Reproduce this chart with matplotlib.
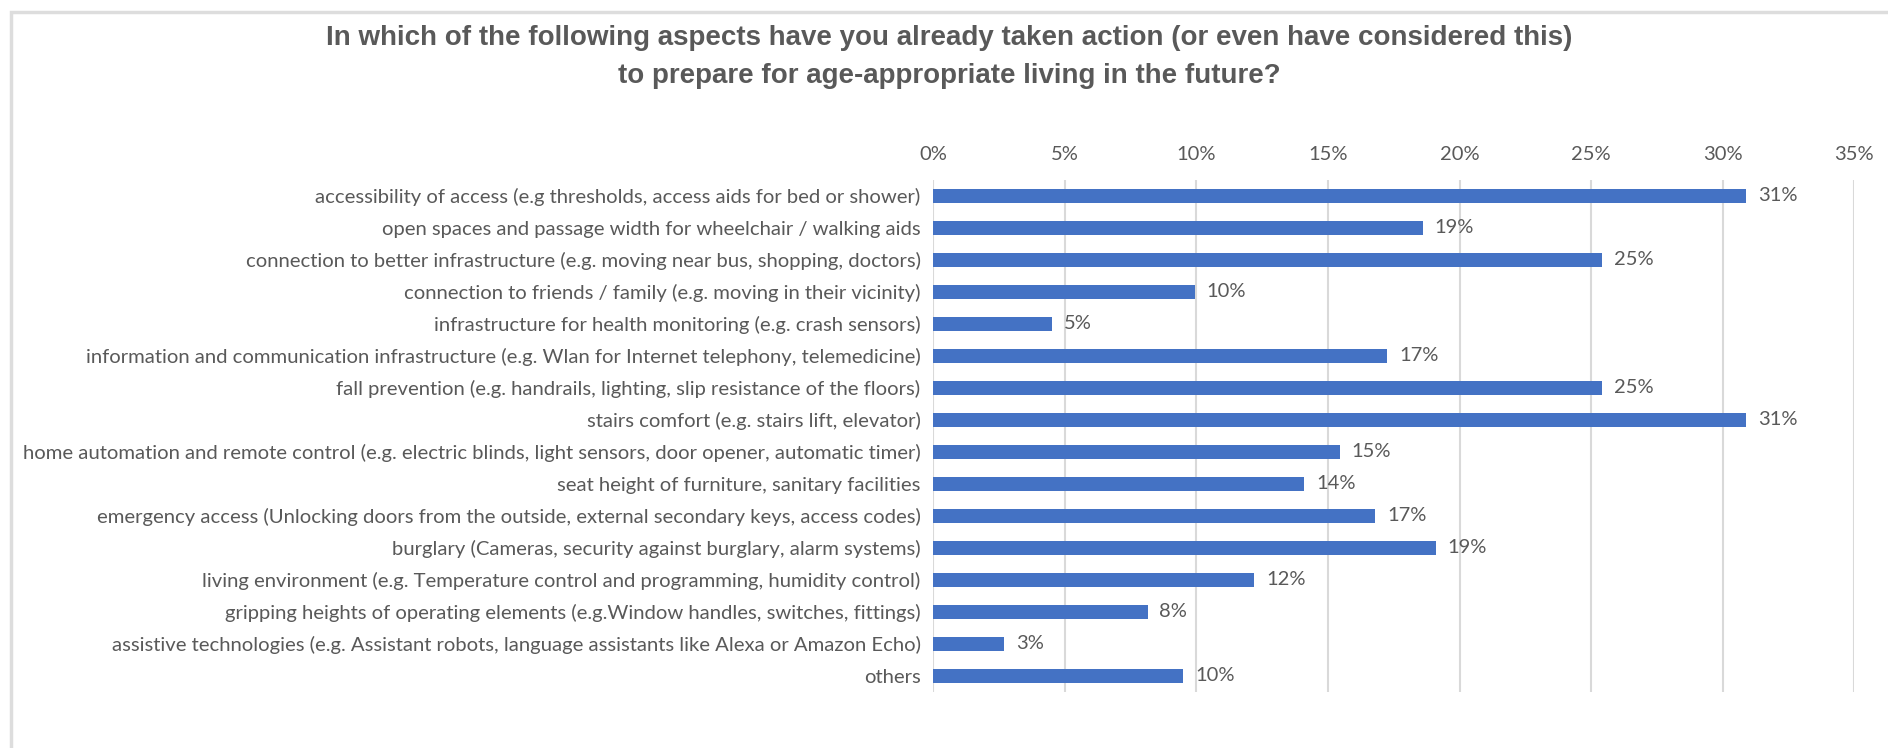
#!/usr/bin/python3

import matplotlib
matplotlib.use("Agg")
import matplotlib.pyplot as plt
import matplotlib.ticker
import matplotlib.patches

title = ("In which of the following aspects have you already taken action "
         "(or even have considered this)\nto prepare for age-appropriate "
         "living in the future?")

categories = [
    "accessibility of access (e.g thresholds, access aids for bed or shower)",
    "open spaces and passage width for wheelchair / walking aids",
    "connection to better infrastructure (e.g. moving near bus, shopping, doctors)",
    "connection to friends / family (e.g. moving in their vicinity)",
    "infrastructure for health monitoring (e.g. crash sensors)",
    "information and communication infrastructure (e.g. Wlan for Internet telephony, telemedicine)",
    "fall prevention (e.g. handrails, lighting, slip resistance of the floors)",
    "stairs comfort (e.g. stairs lift, elevator)",
    "home automation and remote control (e.g. electric blinds, light sensors, door opener, automatic timer)",
    "seat height of furniture, sanitary facilities",
    "emergency access (Unlocking doors from the outside, external secondary keys, access codes)",
    "burglary (Cameras, security against burglary, alarm systems)",
    "living environment (e.g. Temperature control and programming, humidity control)",
    "gripping heights of operating elements (e.g.Window handles, switches, fittings)",
    "assistive technologies (e.g. Assistant robots, language assistants like Alexa or Amazon Echo)",
    "others",
]
shares = [0.309, 0.186, 0.254, 0.0995, 0.0452, 0.1725, 0.254, 0.309,
          0.1545, 0.141, 0.168, 0.191, 0.122, 0.0815, 0.027, 0.095]
x_ticks = [0, 0.05, 0.10, 0.15, 0.20, 0.25, 0.30, 0.35]

BLUE = "#4472C4"
GREY = "#595959"
GRID = "#D9D9D9"
LABEL_FONT = ["Lato", "DejaVu Sans"]


def main():
    fig = plt.figure(figsize=(18.88, 7.48), dpi=100)
    ax = fig.add_axes([0.4942, 0.075, 0.9822 - 0.4942, 0.7594 - 0.075])

    # outer chart frame (only top and left visible, like the cropped screenshot)
    frame = matplotlib.patches.Rectangle(
        (11 / 1888, -0.1), 1.2, 1.1 - 12 / 748, transform=fig.transFigure,
        fill=False, edgecolor="#DDDDDD", linewidth=2.5, zorder=0)
    fig.patches.append(frame)

    y = list(range(len(categories)))
    ax.barh(y, shares, height=0.44, color=BLUE, zorder=3)
    for yi, v in zip(y, shares):
        ax.text(v + 0.0045, yi, f"{v:.0%}", va="center", ha="left",
                fontsize=14.5, color=GREY, family=LABEL_FONT)

    ax.set_ylim(len(categories) - 0.5, -0.5)
    ax.set_xlim(0, 0.35)
    ax.set_yticks(y)
    ax.set_yticklabels(categories, fontsize=14.6, color=GREY, family=LABEL_FONT)
    ax.set_xticks(x_ticks)
    ax.xaxis.set_major_formatter(matplotlib.ticker.PercentFormatter(1.0, decimals=0))
    ax.xaxis.tick_top()
    ax.tick_params(axis="x", length=0, pad=12, labelsize=14.5, labelcolor=GREY)
    ax.tick_params(axis="y", length=0, pad=9)
    for lbl in ax.get_xticklabels():
        lbl.set_family(LABEL_FONT)
    ax.grid(True, axis="x", color=GRID, linewidth=1.5, zorder=0)
    for s in ax.spines.values():
        s.set_visible(False)

    fig.text(0.503, 0.967, title, ha="center", va="top", fontsize=20,
             fontweight="bold", color=GREY, family="Liberation Sans",
             linespacing=1.6)

    plt.savefig("out.png", dpi=100)


if __name__ == "__main__":
    main()
